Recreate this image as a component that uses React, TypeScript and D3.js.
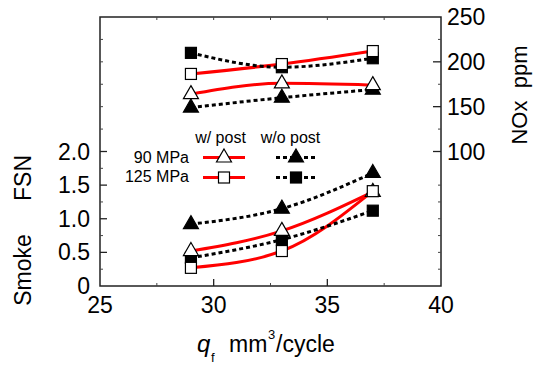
import React from "react";
import * as d3 from "d3";

const qf = [29, 33, 37];
const noxW90 = [164, 176, 174];
const noxW125 = [186.5, 197.5, 212];
const noxWo90 = [149, 160, 169];
const noxWo125 = [210, 194, 204];
const smokeW90 = [0.52, 0.82, 1.4];
const smokeW125 = [0.27, 0.52, 1.41];
const smokeWo90 = [0.92, 1.15, 1.68];
const smokeWo125 = [0.42, 0.69, 1.12];

const xTicks = [25, 30, 35, 40];
const xMinor = [27.5, 30, 32.5, 35, 37.5];
const smokeTicks = [0, 0.5, 1.0, 1.5, 2.0];
const smokeTickLabels = ["0", "0.5", "1.0", "1.5", "2.0"];
const smokeMinor = [0.25, 0.75, 1.25, 1.75];
const noxTicks = [100, 150, 200, 250];
const noxMinor = [125, 175, 225];

const FONT = "'Liberation Sans', Arial, sans-serif";

const L = 100, R = 441, T = 17, B = 286;

export default function App() {
  const x = d3.scaleLinear().domain([25, 40]).range([L, R]);
  const ys = d3.scaleLinear().domain([0, 4]).range([B, T]);
  const yn = d3.scaleLinear().domain([-50, 250]).range([B, T]);

  const line = (yScale: d3.ScaleLinear<number, number>, vals: number[]) =>
    d3
      .line<number>()
      .x((_, i) => x(qf[i]))
      .y((v) => yScale(v))
      .curve(d3.curveMonotoneX)(vals) as string;

  const tri = (cx: number, cy: number, filled: boolean, key: string) => (
    <path
      key={key}
      d={`M${cx},${cy - 8.5} L${cx + 7.5},${cy + 4.5} L${cx - 7.5},${cy + 4.5} Z`}
      fill={filled ? "#000" : "#fff"}
      stroke="#000"
      strokeWidth={1.2}
    />
  );
  const sq = (cx: number, cy: number, filled: boolean, key: string) => (
    <rect
      key={key}
      x={cx - 5.5}
      y={cy - 5.5}
      width={11}
      height={11}
      fill={filled ? "#000" : "#fff"}
      stroke="#000"
      strokeWidth={1.2}
    />
  );

  const red = { stroke: "#ff0000", strokeWidth: 3, fill: "none" };
  const blk = { stroke: "#000", strokeWidth: 3, fill: "none", strokeDasharray: "4,3" };

  const fs = 23;

  return (
    <svg
      width={536}
      height={365}
      style={{ position: "absolute", left: 0, top: 0, background: "#fff" }}
      fontFamily={FONT}
    >
      <rect x={0} y={0} width={536} height={365} fill="#fff" />
      {/* frame */}
      <rect x={L} y={T} width={R - L} height={B - T} fill="none" stroke="#222" strokeWidth={1.5} />

      {/* bottom ticks */}
      {[30, 35].map((t) => (
        <line key={"bx" + t} x1={x(t)} x2={x(t)} y1={B} y2={B - 7} stroke="#222" strokeWidth={1.3} />
      ))}
      {[27.5, 32.5, 37.5].map((t) => (
        <line key={"bm" + t} x1={x(t)} x2={x(t)} y1={B} y2={B - 3} stroke="#444" strokeWidth={1} />
      ))}
      {xMinor.map((t) => (
        <line key={"tm" + t} x1={x(t)} x2={x(t)} y1={T} y2={T + 3} stroke="#444" strokeWidth={1} />
      ))}
      {xTicks.map((t) => (
        <text key={"xl" + t} x={x(t)} y={313} fontSize={fs} textAnchor="middle" fill="#000">
          {t}
        </text>
      ))}

      {/* left axis ticks */}
      {smokeTicks.slice(1).map((t) => (
        <line key={"ly" + t} x1={L} x2={L + 7} y1={ys(t)} y2={ys(t)} stroke="#222" strokeWidth={1.3} />
      ))}
      {smokeMinor.map((t) => (
        <line key={"lm" + t} x1={L} x2={L + 3} y1={ys(t)} y2={ys(t)} stroke="#444" strokeWidth={1} />
      ))}
      {[125, 150, 175, 200, 225].map((t) => (
        <line key={"ln" + t} x1={L} x2={L + 3} y1={yn(t)} y2={yn(t)} stroke="#444" strokeWidth={1} />
      ))}
      {smokeTicks.map((t, i) => (
        <text key={"sl" + t} x={90} y={ys(t) + 8} fontSize={fs} textAnchor="end" fill="#000">
          {smokeTickLabels[i]}
        </text>
      ))}

      {/* right axis ticks */}
      {noxTicks.slice(0, 3).map((t) => (
        <line key={"ry" + t} x1={R} x2={R - 8} y1={yn(t)} y2={yn(t)} stroke="#222" strokeWidth={1.3} />
      ))}
      {noxMinor.map((t) => (
        <line key={"rm" + t} x1={R} x2={R - 3} y1={yn(t)} y2={yn(t)} stroke="#444" strokeWidth={1} />
      ))}
      {[0.25, 0.5, 0.75, 1.0, 1.25, 1.5].map((t) => (
        <line key={"rs" + t} x1={R} x2={R - 3} y1={ys(t)} y2={ys(t)} stroke="#444" strokeWidth={1} />
      ))}
      {noxTicks.map((t) => (
        <text key={"nl" + t} x={447} y={yn(t) + 8} fontSize={fs} textAnchor="start" fill="#000">
          {t}
        </text>
      ))}

      {/* axis titles */}
      <text transform="translate(31,270) rotate(-90)" fontSize={fs} textAnchor="middle" fill="#000">
        Smoke
      </text>
      <text transform="translate(31,178) rotate(-90)" fontSize={fs} textAnchor="middle" fill="#000">
        FSN
      </text>
      <text transform="translate(527,95) rotate(-90)" fontSize={22} textAnchor="middle" fill="#000" xmlSpace="preserve">
        NOx  ppm
      </text>
      <text x={197} y={352} fontSize={24} fill="#000" fontStyle="italic">q</text>
      <text x={211} y={362} fontSize={13} fill="#000">f</text>
      <text x={229} y={352} fontSize={fs} fill="#000">mm</text>
      <text x={268} y={339} fontSize={13} fill="#000">3</text>
      <text x={276} y={352} fontSize={fs} fill="#000">/cycle</text>

      {/* lines */}
      <path d={line(yn, noxW90)} {...red} />
      <path d={line(yn, noxW125)} {...red} />
      <path d={line(ys, smokeW90)} {...red} />
      <path d={line(ys, smokeW125)} {...red} />
      <path d={line(yn, noxWo90)} {...blk} />
      <path d={line(yn, noxWo125)} {...blk} />
      <path d={line(ys, smokeWo90)} {...blk} />
      <path d={line(ys, smokeWo125)} {...blk} />

      {/* markers */}
      {qf.map((q, i) => tri(x(q), yn(noxWo90[i]), true, "nwo90" + i))}
      {qf.map((q, i) => sq(x(q), yn(noxWo125[i]), true, "nwo125" + i))}
      {qf.map((q, i) => tri(x(q), ys(smokeWo90[i]), true, "swo90" + i))}
      {qf.map((q, i) => sq(x(q), ys(smokeWo125[i]), true, "swo125" + i))}
      {qf.map((q, i) => tri(x(q), yn(noxW90[i]), false, "nw90" + i))}
      {qf.map((q, i) => tri(x(q), ys(smokeW90[i]), false, "sw90" + i))}
      {qf.map((q, i) => sq(x(q), yn(noxW125[i]), false, "nw125" + i))}
      {qf.map((q, i) => sq(x(q), ys(smokeW125[i]), false, "sw125" + i))}

      {/* legend */}
      <text x={220.5} y={143} fontSize={16} textAnchor="middle" fill="#000">w/ post</text>
      <text x={290.5} y={143} fontSize={16} textAnchor="middle" fill="#000">w/o post</text>
      <text x={189} y={163} fontSize={16} textAnchor="end" fill="#000">90 MPa</text>
      <text x={189} y={182} fontSize={16} textAnchor="end" fill="#000">125 MPa</text>
      <line x1={203} x2={245} y1={157.5} y2={157.5} {...red} />
      <line x1={203} x2={245} y1={177.5} y2={177.5} {...red} />
      <line x1={276} x2={317} y1={157.5} y2={157.5} {...blk} />
      <line x1={276} x2={317} y1={177.5} y2={177.5} {...blk} />
      {tri(224, 157.5, false, "lg1")}
      {sq(224, 177.5, false, "lg2")}
      {tri(296, 157.5, true, "lg3")}
      {sq(296, 177.5, true, "lg4")}
    </svg>
  );
}
